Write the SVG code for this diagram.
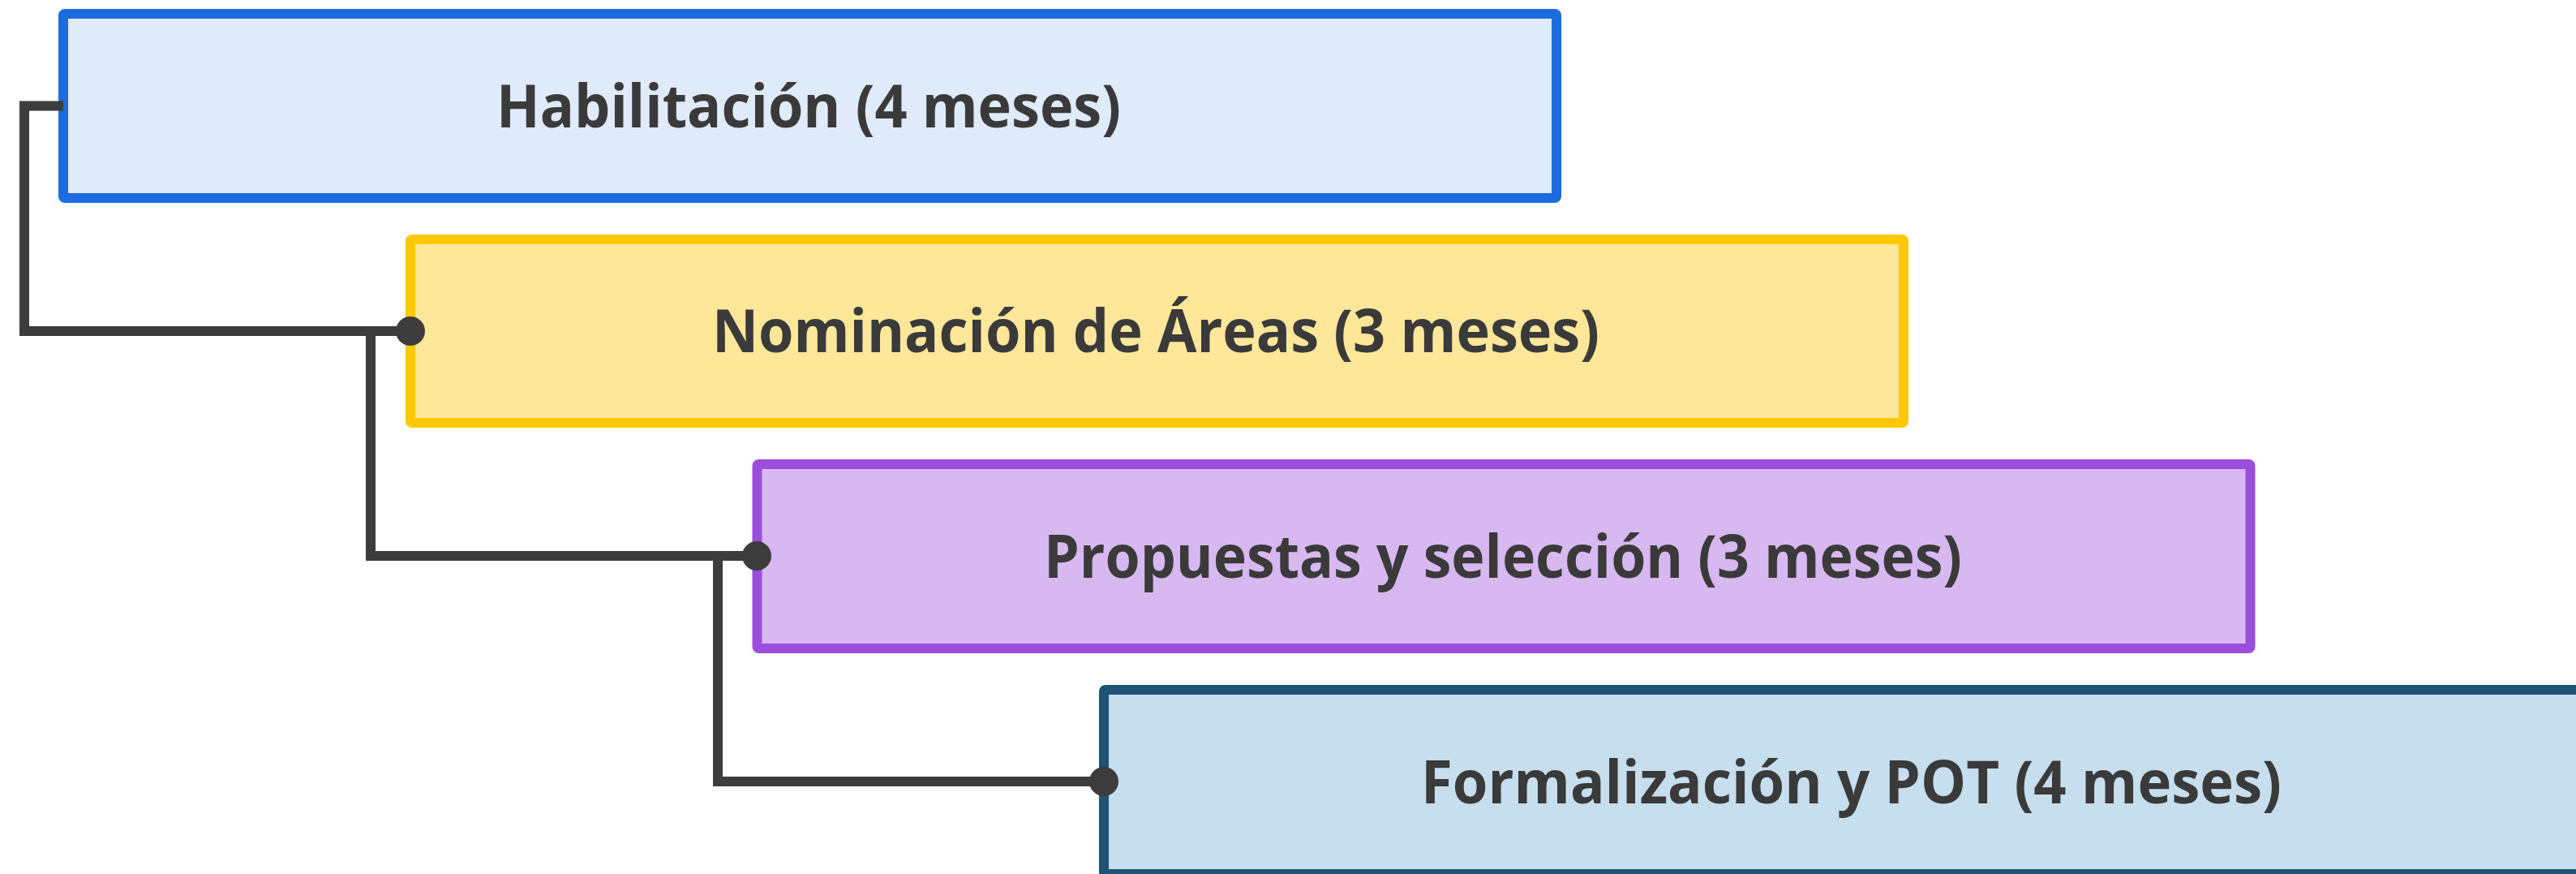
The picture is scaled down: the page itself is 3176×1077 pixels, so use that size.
<svg xmlns="http://www.w3.org/2000/svg" width="3176" height="1077" viewBox="0 0 3176 1077">
<style>
.box{stroke-width:12;stroke-linejoin:round}
.lbl{font-family:"Open Sans","Noto Sans","Liberation Sans",sans-serif;font-weight:700;font-size:74px;fill:#3a3a3a;text-anchor:middle}
.con{fill:none;stroke:#3c3c3c;stroke-width:12;stroke-linejoin:miter}
.dot{fill:#3c3c3c}
</style>
<rect width="3176" height="1077" fill="#ffffff"/>
<g id="habilitacion">
<rect class="box" x="78" y="17" width="1841" height="227" rx="2" fill="#dfeafa" stroke="#1c6ce0"/>
<text class="lbl" x="997" y="157" textLength="770" lengthAdjust="spacingAndGlyphs">Habilitación (4 meses)</text>
</g>
<g id="nominacion">
<rect class="box" x="506" y="295" width="1841" height="226" rx="2" fill="#fee799" stroke="#ffc800"/>
<text class="lbl" x="1425" y="434" textLength="1094" lengthAdjust="spacingAndGlyphs">Nominación de Áreas (3 meses)</text>
</g>
<g id="propuestas">
<rect class="box" x="933.5" y="572" width="1841" height="227" rx="2" fill="#d8b8f0" stroke="#9b4edc"/>
<text class="lbl" x="1853" y="712" textLength="1132" lengthAdjust="spacingAndGlyphs">Propuestas y selección (3 meses)</text>
</g>
<g id="formalizacion">
<rect class="box" x="1361" y="850" width="1841" height="227" rx="2" fill="#c6deed" stroke="#1f5373"/>
<text class="lbl" x="2282.5" y="990" textLength="1061" lengthAdjust="spacingAndGlyphs">Formalización y POT (4 meses)</text>
</g>
<g id="connectors">
<path class="con" d="M78,130.5 H30 V408 H506"/>
<circle class="dot" cx="506" cy="408" r="18"/>
<path class="con" d="M506,408 H457 V685 H933"/>
<circle class="dot" cx="933" cy="685" r="18"/>
<path class="con" d="M933,685 H885 V963 H1361"/>
<circle class="dot" cx="1361" cy="963" r="18"/>
</g>
</svg>
